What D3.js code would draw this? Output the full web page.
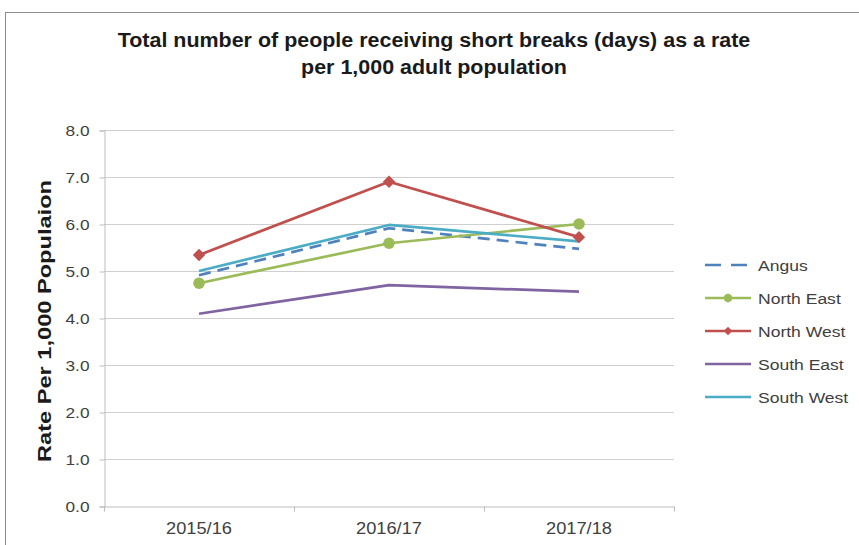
<!DOCTYPE html>
<html>
<head>
<meta charset="utf-8">
<script src="https://cdn.jsdelivr.net/npm/d3@7"></script>
<style>
  body { margin: 0; background: #fff; }
  text { font-family: "Liberation Sans", Arial, sans-serif; }
</style>
</head>
<body>
<script>
// chart data
var years = ["2015/16", "2016/17", "2017/18"];
var angus = [4.91, 5.91, 5.47];
var northEast = [4.74, 5.59, 6.0];
var northWest = [5.34, 6.9, 5.72];
var southEast = [4.09, 4.7, 4.56];
var southWest = [5.0, 5.98, 5.63];
var yTicks = [0, 1, 2, 3, 4, 5, 6, 7, 8];

var series = [
  {name: "Angus", values: angus, color: "#4f81bd", dash: "12,7", marker: null},
  {name: "North East", values: northEast, color: "#9bbb59", dash: null, marker: "circle"},
  {name: "North West", values: northWest, color: "#c0504d", dash: null, marker: "diamond"},
  {name: "South East", values: southEast, color: "#8064a2", dash: null, marker: null},
  {name: "South West", values: southWest, color: "#4bacc6", dash: null, marker: null}
];

var width = 859, height = 545;
var plotLeft = 104, plotRight = 674, plotTop = 130, plotBottom = 506;

var svg = d3.select("body").append("svg")
    .attr("width", width)
    .attr("height", height);

// stretch text horizontally, the source picture is a bit wider than normal Arial
function stretch(sel, f) {
  sel.each(function(){
    var w = this.getComputedTextLength();
    d3.select(this).attr("textLength", w * f).attr("lengthAdjust", "spacingAndGlyphs");
  });
}

// outer frame
svg.append("rect")
    .attr("x", 5.5).attr("y", 12.5)
    .attr("width", 870).attr("height", 560)
    .attr("fill", "none").attr("stroke", "#8c8c8c").attr("stroke-width", 1);

var x = d3.scaleBand().domain(years).range([plotLeft, plotRight]);
var y = d3.scaleLinear().domain([0, 8]).range([plotBottom, plotTop]);

// gridlines
svg.append("g").selectAll("line").data(yTicks.slice(1)).enter().append("line")
    .attr("x1", plotLeft).attr("x2", plotRight)
    .attr("y1", function(d){ return y(d) + 0.5; })
    .attr("y2", function(d){ return y(d) + 0.5; })
    .attr("stroke", "#cfcfcf").attr("stroke-width", 1.2);

// y axis
var yAxis = svg.append("g")
    .attr("transform", "translate(" + (plotLeft + 0.5) + ",0.5)")
    .call(d3.axisLeft(y).tickValues(yTicks).tickFormat(d3.format(".1f")).tickSize(5).tickPadding(10));
yAxis.select(".domain").attr("stroke", "#bdbdbd");
yAxis.selectAll(".tick line").attr("stroke", "#bdbdbd");
yAxis.selectAll("text").attr("fill", "#404040").style("font-size", "15px").attr("dy", "0.36em");
stretch(yAxis.selectAll("text"), 1.15);

// x axis
var xAxis = svg.append("g")
    .attr("transform", "translate(0," + (plotBottom + 0.5) + ")")
    .call(d3.axisBottom(x).tickSize(0).tickPadding(16));
xAxis.select(".domain").attr("stroke", "#bdbdbd");
xAxis.selectAll("text").attr("fill", "#404040").style("font-size", "16px");
stretch(xAxis.selectAll("text"), 1.14);
// boundary ticks between categories
var bounds = years.map(function(d){ return x(d); }).concat([plotRight]);
xAxis.selectAll(".bound").data(bounds).enter().append("line")
    .attr("class", "bound")
    .attr("x1", function(d){ return d + 0.5; }).attr("x2", function(d){ return d + 0.5; })
    .attr("y1", 0).attr("y2", 5)
    .attr("stroke", "#bdbdbd");

// lines
var line = d3.line()
    .x(function(d, i){ return x(years[i]) + x.bandwidth() / 2; })
    .y(function(d){ return y(d); });

series.forEach(function(s){
  svg.append("path")
      .datum(s.values)
      .attr("d", line)
      .attr("fill", "none")
      .attr("stroke", s.color)
      .attr("stroke-width", 2.7)
      .attr("stroke-dasharray", s.dash)
      .attr("stroke-linejoin", "round");
});

function drawMarker(g, type, color, cx, cy, r) {
  if (type === "circle") {
    g.append("circle").attr("cx", cx).attr("cy", cy).attr("r", r).attr("fill", color);
  } else if (type === "diamond") {
    g.append("path")
        .attr("d", "M" + cx + "," + (cy - r) + "L" + (cx + r) + "," + cy + "L" + cx + "," + (cy + r) + "L" + (cx - r) + "," + cy + "Z")
        .attr("fill", color);
  }
}

var markers = svg.append("g");
series.forEach(function(s){
  if (!s.marker) return;
  s.values.forEach(function(v, i){
    drawMarker(markers, s.marker, s.color, x(years[i]) + x.bandwidth() / 2, y(v), s.marker === "circle" ? 5.8 : 6.2);
  });
});

// legend
var legend = svg.append("g");
series.forEach(function(s, i){
  var ly = 265 + i * 33;
  legend.append("line")
      .attr("x1", 705).attr("x2", 751)
      .attr("y1", ly).attr("y2", ly)
      .attr("stroke", s.color).attr("stroke-width", 2.7)
      .attr("stroke-dasharray", s.dash ? "16,10" : null);
  if (s.marker) drawMarker(legend, s.marker, s.color, 728, ly, 4.3);
  legend.append("text")
      .attr("x", 758).attr("y", ly + 5.5)
      .attr("fill", "#404040")
      .style("font-size", "15.5px")
      .text(s.name);
});
stretch(legend.selectAll("text"), 1.13);

// title
var title = svg.append("g");
title.append("text")
    .attr("x", 434).attr("y", 47)
    .attr("text-anchor", "middle")
    .style("font-size", "19.5px").style("font-weight", "bold")
    .attr("fill", "#1a1a1a")
    .text("Total number of people receiving short breaks (days) as a rate");
title.append("text")
    .attr("x", 434).attr("y", 74)
    .attr("text-anchor", "middle")
    .style("font-size", "19.5px").style("font-weight", "bold")
    .attr("fill", "#1a1a1a")
    .text("per 1,000 adult population");
stretch(title.selectAll("text"), 1.1);

// y axis title
svg.append("text")
    .attr("transform", "translate(51,321) rotate(-90)")
    .attr("text-anchor", "middle")
    .style("font-size", "19px").style("font-weight", "bold")
    .attr("fill", "#1a1a1a")
    .attr("textLength", 282).attr("lengthAdjust", "spacingAndGlyphs")
    .text("Rate Per 1,000 Populaion");
</script>
</body>
</html>
